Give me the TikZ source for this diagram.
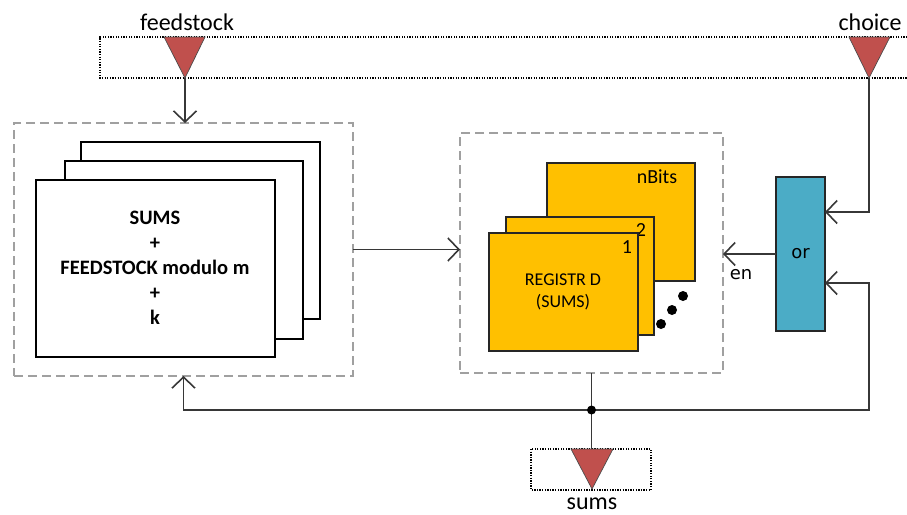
\documentclass[tikz,border=0pt]{standalone}
\usepackage{fontspec}
\setmainfont{Carlito}
\newfontfamily\dejavu{DejaVu Sans}
\usetikzlibrary{arrows.meta}
\definecolor{wirec}{RGB}{55,55,55}
\definecolor{groupc}{RGB}{160,160,160}
\definecolor{regc}{RGB}{255,192,0}
\definecolor{orc}{RGB}{75,172,198}
\definecolor{pinc}{RGB}{192,80,77}
\begin{document}
\begin{tikzpicture}[x=1pt,y=-1pt,
  wire/.style={line width=1.7pt, draw=wirec},
  arr/.style={wire, -{Straight Barb[length=11pt,width=23pt,line width=1.6pt]}},
  group/.style={draw=groupc, line width=1.6pt, dash pattern=on 9pt off 5pt, inner sep=0pt, outer sep=0pt},
  port/.style={draw=black, line width=1.1pt, dash pattern=on 1.3pt off 1.3pt},
  sheet/.style={draw=black, line width=1.2pt, fill=white, inner sep=0pt, outer sep=0pt},
  regbox/.style={draw=black!85, line width=1.2pt, fill=regc, inner sep=0pt, outer sep=0pt},
  pin/.style={fill=pinc, draw=black!70, line width=0.7pt},
  lbl/.style={font=\fontsize{24}{28}\selectfont, inner sep=0pt},
]
\useasboundingbox (0,0) rectangle (907,514);

% input / output port frames
\draw[port] (915,37) -- (100,37) -- (100,78) -- (915,78);
\draw[port] (531,449) rectangle (651,490);

% port triangles
\draw[pin] (164,37) -- (205,37) -- (185,78) -- cycle;
\coordinate (fstip) at (185,78);
\draw[pin] (849,37) -- (890,37) -- (869,78) -- cycle;
\coordinate (chtip) at (869,78);
\node[lbl] (fslbl) at (187,22) {feedstock};
\node[lbl] (chlbl) at (870,22) {choice};

% calculation block
\node[group, minimum width=339pt, minimum height=253pt] (calc) at (183.5,249.5) {};
\node[sheet, minimum width=239pt, minimum height=177pt] (s3) at (200.5,230.5) {};
\node[sheet, minimum width=238pt, minimum height=178pt] (s2) at (184,250) {};
\node[sheet, minimum width=239pt, minimum height=177pt] (s1) at (155.5,268.5) {};
\node[align=center, font=\bfseries\fontsize{20.5}{25}\selectfont] (calctxt) at (155,268)
  {SUMS\\+\\FEEDSTOCK modulo m\\+\\k};

% register block
\node[group, minimum width=263pt, minimum height=240pt] (regs) at (591.5,253) {};
\node[regbox, minimum width=148pt, minimum height=118pt] (r3) at (621,222) {};
\node[font=\fontsize{20}{24}\selectfont, inner sep=0pt] (r3lbl) at (657,177) {nBits};
\node[regbox, minimum width=148pt, minimum height=118pt] (r2) at (580,276) {};
\node[font=\fontsize{20}{24}\selectfont, inner sep=0pt] (r2lbl) at (641,230) {2};
\node[regbox, minimum width=149pt, minimum height=118pt] (r1) at (563.5,292) {};
\node[font=\fontsize{20}{24}\selectfont, inner sep=0pt] (r1lbl) at (627,247) {1};
\node[align=center, font=\fontsize{18}{22}\selectfont] (r1txt) at (563,292) {REGISTR D\\(SUMS)};
\fill (661,324) circle (5pt) (672,310) circle (5pt) (683,296) circle (5pt);

% or gate
\node[draw=black!85, line width=1.2pt, fill=orc, minimum width=49pt, minimum height=154pt,
      inner sep=0pt, outer sep=0pt, font=\dejavu\fontsize{18}{22}\selectfont] (or) at (800.5,254) {or};
\coordinate (orin1) at ([yshift=42pt]or.east);
\coordinate (orin2) at ([yshift=-29pt]or.east);

% connectors
\draw[arr] (fstip) -- (fstip |- calc.north);
\draw[arr] (calc.east) -- (calc.east -| regs.west);
\draw[arr] (chtip) |- (orin1);
\draw[arr] (or.west) -- (or.west -| regs.east);
\node[font=\dejavu\fontsize{18}{22}\selectfont, inner sep=0pt] (enlbl) at (741,275) {en};

\coordinate (jn) at (regs.south |- 0,410);
\coordinate (rt) at (chtip |- jn);
\coordinate (sumstop) at (jn |- 0,449);
\draw[wire] (regs.south) -- (jn);
\draw[arr] (jn) -| (calc.south);
\draw[arr] (jn) -- (rt) |- (orin2);
\draw[wire] (jn) -- (sumstop);
\fill (jn) circle (4.5pt);

\draw[pin] (571,449) -- (613,449) -- (592,489) -- cycle;
\node[lbl] (sumslbl) at (592,504) {sums};
\end{tikzpicture}
\end{document}
